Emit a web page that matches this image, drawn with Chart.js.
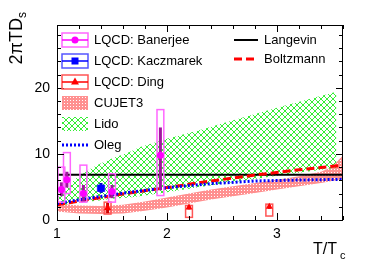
<!DOCTYPE html>
<html>
<head>
<meta charset="utf-8">
<script src="https://cdn.jsdelivr.net/npm/chart.js@4"></script>
<style>
  html, body { margin: 0; padding: 0; background: #fff; }
</style>
</head>
<body>
<canvas id="c" width="382" height="261"></canvas>
<script>
// ---- data ----
const xTickLabels = [1, 2, 3];
const yTickLabels = [0, 10, 20];

// CUJET3 band
const cujetT    = [1.0, 1.2, 1.4, 1.6, 1.8, 2.0, 2.2, 2.4, 2.6, 2.8, 3.0, 3.2, 3.4, 3.5, 3.6];
const cujetLow  = [1.3, 1.0, 0.9, 1.0, 1.4, 1.9, 2.5, 3.1, 3.6, 4.1, 4.6, 5.1, 5.6, 5.9, 6.2];
const cujetHigh = [2.5, 2.2, 2.1, 2.3, 2.8, 3.4, 4.0, 4.6, 5.1, 5.6, 6.1, 6.6, 7.3, 8.0, 9.8];

// Lido band
const lidoT    = [1.0, 1.1, 1.2, 1.3, 1.4, 1.5, 1.66, 1.75, 2.0, 2.3, 2.5, 3.0, 3.54];
const lidoLow  = [2.2, 2.4, 2.6, 2.8, 3.0, 3.2, 3.4, 3.6, 4.2, 5.0, 5.5, 6.7, 7.9];
const lidoHigh = [3.8, 5.3, 6.6, 7.7, 8.6, 9.3, 10.3, 11.0, 12.3, 13.6, 14.6, 17.0, 19.4];

// model curves
const langevinT = [1.0, 3.6];
const langevinV = [6.85, 6.85];
const boltzT = [1.0, 1.33, 1.66, 2.0, 2.4, 2.8, 3.2, 3.6];
const boltzV = [2.3, 3.2, 4.1, 4.9, 5.9, 6.8, 7.6, 8.3];
const olegT  = [1.0, 1.33, 1.66, 2.0, 2.4, 2.8, 3.2, 3.6];
const olegV  = [2.5, 3.4, 4.2, 4.9, 5.5, 5.9, 6.05, 6.15];

// lattice points
const banT      = [1.04, 1.09, 1.24, 1.50, 1.94];
const banV      = [4.6, 6.1, 4.0, 4.3, 9.8];
const banStatLo = [3.6, 4.9, 2.7, 3.3, 4.5];
const banStatHi = [5.7, 7.3, 5.3, 5.3, 14.0];
const banSysLo  = [2.7, 4.0, 2.7, 2.7, 3.7];
const banSysHi  = [8.0, 10.2, 8.3, 7.0, 16.7];

const kacT      = [1.40];
const kacV      = [4.8];
const kacStatLo = [4.1];
const kacStatHi = [5.6];
const kacSysLo  = [4.4];
const kacSysHi  = [5.2];

const dingT      = [1.46, 2.20, 2.93];
const dingV      = [1.8, 1.9, 2.0];
const dingStatLo = [1.0, 1.6, 1.7];
const dingStatHi = [2.6, 2.2, 2.3];
const dingSysLo  = [0.9, 0.4, 0.6];
const dingSysHi  = [2.7, 2.2, 2.4];

function pts(xs, ys) {
    return xs.map(function(x, i) { return { x: x, y: ys[i] }; });
}

// fill patterns
function makePattern(size, painter) {
    var c = document.createElement('canvas');
    c.width = size; c.height = size;
    painter(c.getContext('2d'));
    return document.createElement('canvas').getContext('2d').createPattern(c, 'repeat');
}
const cujetPattern = makePattern(3, function(g) {
    g.fillStyle = '#ff9090';
    g.fillRect(0, 0, 3, 3);
    g.fillStyle = '#ffffff';
    g.fillRect(1, 1, 1, 1);
});
const lidoPattern = makePattern(6, function(g) {
    g.fillStyle = '#33ee33';
    for (var i = 0; i < 6; i++) {
        g.fillRect(i, i, 1, 1);
        g.fillRect(5 - i, i, 1, 1);
    }
});

const font = '"Liberation Sans", Arial, sans-serif';

// boxes (systematic) and bars (statistical) behind the markers
const errorBoxes = {
    id: 'errorBoxes',
    beforeDatasetDraw(chart, args) {
        var ds = chart.data.datasets[args.index];
        if (!ds.sysLo) return;
        var ctx = chart.ctx, xs = chart.scales.x, ys = chart.scales.y;
        ctx.save();
        ds.data.forEach(function(p, i) {
            var x = xs.getPixelForValue(p.x);
            var hw = xs.getPixelForValue(p.x + 0.031) - x;
            // stat bar
            ctx.strokeStyle = ds.statColor;
            ctx.lineWidth = 3;
            ctx.beginPath();
            ctx.moveTo(x, ys.getPixelForValue(ds.statLo[i]));
            ctx.lineTo(x, ys.getPixelForValue(ds.statHi[i]));
            ctx.stroke();
            // sys box
            ctx.strokeStyle = ds.boxColor;
            ctx.lineWidth = 1.5;
            var top = ys.getPixelForValue(ds.sysHi[i]);
            var bot = ys.getPixelForValue(ds.sysLo[i]);
            ctx.strokeRect(x - hw, top, 2 * hw, bot - top);
        });
        ctx.restore();
    }
};

function drawMarker(ctx, style, x, y, color) {
    ctx.fillStyle = color;
    ctx.beginPath();
    if (style === 'circle') {
        ctx.arc(x, y, 3.5, 0, Math.PI * 2);
    } else if (style === 'rect') {
        ctx.rect(x - 3.5, y - 3.5, 7, 7);
    } else {
        ctx.moveTo(x, y - 4.5);
        ctx.lineTo(x + 4, y + 2.5);
        ctx.lineTo(x - 4, y + 2.5);
        ctx.closePath();
    }
    ctx.fill();
}

// frame, inward ticks, tick labels, titles, legends
const frameText = {
    id: 'frameText',
    afterDraw(chart) {
        var ctx = chart.ctx, a = chart.chartArea;
        var xs = chart.scales.x, ys = chart.scales.y;
        ctx.save();
        ctx.strokeStyle = '#000';
        ctx.lineWidth = 1;
        ctx.strokeRect(a.left + 0.5, a.top + 0.5, a.right - a.left - 1, a.bottom - a.top);

        ctx.beginPath();
        for (var i = 0; i <= 13; i++) {
            var v = 1 + i * 0.2;
            var px = Math.round(xs.getPixelForValue(v)) + 0.5;
            var len = (i % 5 === 0) ? 7 : 4;
            ctx.moveTo(px, a.bottom); ctx.lineTo(px, a.bottom - len);
            ctx.moveTo(px, a.top); ctx.lineTo(px, a.top + len);
        }
        for (var j = 0; j <= 14; j++) {
            var vy = j * 2;
            var py = Math.round(ys.getPixelForValue(vy)) + 0.5;
            var ly = (vy % 10 === 0) ? 7 : 4;
            ctx.moveTo(a.left, py); ctx.lineTo(a.left + ly, py);
            ctx.moveTo(a.right, py); ctx.lineTo(a.right - ly, py);
        }
        ctx.stroke();

        ctx.fillStyle = '#000';
        ctx.font = '14px ' + font;
        ctx.textAlign = 'center';
        ctx.textBaseline = 'alphabetic';
        xTickLabels.forEach(function(t) {
            ctx.fillText(String(t), xs.getPixelForValue(t), 238);
        });
        ctx.textAlign = 'right';
        ctx.textBaseline = 'middle';
        yTickLabels.forEach(function(t) {
            ctx.fillText(String(t), 50, ys.getPixelForValue(t) + 0.5);
        });

        // x title
        ctx.textBaseline = 'alphabetic';
        ctx.textAlign = 'left';
        ctx.font = '16px ' + font;
        ctx.fillText('T/T', 313, 254);
        ctx.font = '11px ' + font;
        ctx.fillText('c', 340, 259);

        // y title (rotated)
        ctx.save();
        ctx.translate(22, 12);
        ctx.rotate(-Math.PI / 2);
        ctx.textAlign = 'right';
        ctx.font = '12px ' + font;
        var sw = ctx.measureText('s').width;
        ctx.fillText('s', 0, 4);
        ctx.font = '18px ' + font;
        ctx.fillText('2\u03c0TD', -sw, 0);
        ctx.restore();

        // left legend
        ctx.font = '13px ' + font;
        ctx.textAlign = 'left';
        ctx.textBaseline = 'middle';
        var ds = chart.data.datasets;
        var rows = [
            { y: 40, d: ds[7], kind: 'pt' },
            { y: 61, d: ds[8], kind: 'pt' },
            { y: 82, d: ds[9], kind: 'pt' },
            { y: 103, d: ds[1], kind: 'fill' },
            { y: 124, d: ds[3], kind: 'fill' },
            { y: 145, d: ds[6], kind: 'line' }
        ];
        rows.forEach(function(r) {
            var x0 = 62, x1 = 88, cx = 75;
            if (r.kind === 'pt') {
                ctx.strokeStyle = r.d.boxColor;
                ctx.lineWidth = 1.5;
                ctx.strokeRect(x0, r.y - 7, x1 - x0, 14);
                ctx.strokeStyle = r.d.pointBackgroundColor;
                ctx.beginPath();
                ctx.moveTo(x0, r.y); ctx.lineTo(x1, r.y);
                ctx.stroke();
                drawMarker(ctx, r.d.pointStyle, cx, r.y, r.d.pointBackgroundColor);
            } else if (r.kind === 'fill') {
                ctx.fillStyle = r.d.backgroundColor;
                ctx.fillRect(x0, r.y - 7, x1 - x0, 14);
            } else {
                ctx.strokeStyle = r.d.borderColor;
                ctx.lineWidth = r.d.borderWidth;
                ctx.setLineDash(r.d.borderDash);
                ctx.beginPath();
                ctx.moveTo(x0, r.y); ctx.lineTo(x1, r.y);
                ctx.stroke();
                ctx.setLineDash([]);
            }
            ctx.fillStyle = '#000';
            ctx.fillText(r.d.label, 94, r.y + 0.5);
        });

        // right legend
        [{ y: 40, d: ds[4] }, { y: 59, d: ds[5] }].forEach(function(r) {
            ctx.strokeStyle = r.d.borderColor;
            ctx.lineWidth = r.d.borderWidth;
            ctx.setLineDash(r.d.borderDash || []);
            ctx.beginPath();
            ctx.moveTo(234, r.y); ctx.lineTo(258, r.y);
            ctx.stroke();
            ctx.setLineDash([]);
            ctx.fillStyle = '#000';
            ctx.fillText(r.d.label, 264, r.y + 0.5);
        });
        ctx.restore();
    }
};

const chart = new Chart(document.getElementById('c'), {
    type: 'line',
    data: {
        datasets: [
            { label: 'CUJET3 low', data: pts(cujetT, cujetLow), borderWidth: 0, pointRadius: 0, fill: false, order: 10 },
            { label: 'CUJET3', data: pts(cujetT, cujetHigh), borderWidth: 0, pointRadius: 0,
              backgroundColor: cujetPattern, fill: 0, order: 10 },
            { label: 'Lido low', data: pts(lidoT, lidoLow), borderWidth: 0, pointRadius: 0, fill: false, order: 9 },
            { label: 'Lido', data: pts(lidoT, lidoHigh), borderWidth: 0, pointRadius: 0,
              backgroundColor: lidoPattern, fill: 2, order: 9 },
            { label: 'Langevin', data: pts(langevinT, langevinV), borderColor: '#000000', borderWidth: 2,
              pointRadius: 0, fill: false, order: 8 },
            { label: 'Boltzmann', data: pts(boltzT, boltzV), borderColor: '#ff0000', borderWidth: 3,
              borderDash: [8, 4], pointRadius: 0, fill: false, order: 7 },
            { label: 'Oleg', data: pts(olegT, olegV), borderColor: '#0000ff', borderWidth: 3,
              borderDash: [2, 2], pointRadius: 0, fill: false, order: 6 },
            { label: 'LQCD: Banerjee', data: pts(banT, banV), showLine: false, pointStyle: 'circle',
              pointRadius: 3.5, pointBorderWidth: 0, pointBackgroundColor: '#ff00ff',
              sysLo: banSysLo, sysHi: banSysHi, statLo: banStatLo, statHi: banStatHi,
              boxColor: '#ff66ff', statColor: '#a0189e', order: 1 },
            { label: 'LQCD: Kaczmarek', data: pts(kacT, kacV), showLine: false, pointStyle: 'rect',
              pointRadius: 5, pointBorderWidth: 0, pointBackgroundColor: '#0000ff',
              sysLo: kacSysLo, sysHi: kacSysHi, statLo: kacStatLo, statHi: kacStatHi,
              boxColor: '#5555ff', statColor: '#0000cc', order: 1 },
            { label: 'LQCD: Ding', data: pts(dingT, dingV), showLine: false, pointStyle: 'triangle',
              pointRadius: 4, pointBorderWidth: 0, pointBackgroundColor: '#ff0000',
              sysLo: dingSysLo, sysHi: dingSysHi, statLo: dingStatLo, statHi: dingStatHi,
              boxColor: '#ff5555', statColor: '#cc0000', order: 1 }
        ]
    },
    options: {
        responsive: false,
        animation: false,
        layout: { padding: { left: 57, top: 25, right: 39, bottom: 41 } },
        plugins: { legend: { display: false }, tooltip: { enabled: false } },
        scales: {
            x: { type: 'linear', min: 1, max: 3.6, display: false },
            y: { type: 'linear', min: 0, max: 29.5, display: false }
        }
    },
    plugins: [errorBoxes, frameText]
});
</script>
</body>
</html>
